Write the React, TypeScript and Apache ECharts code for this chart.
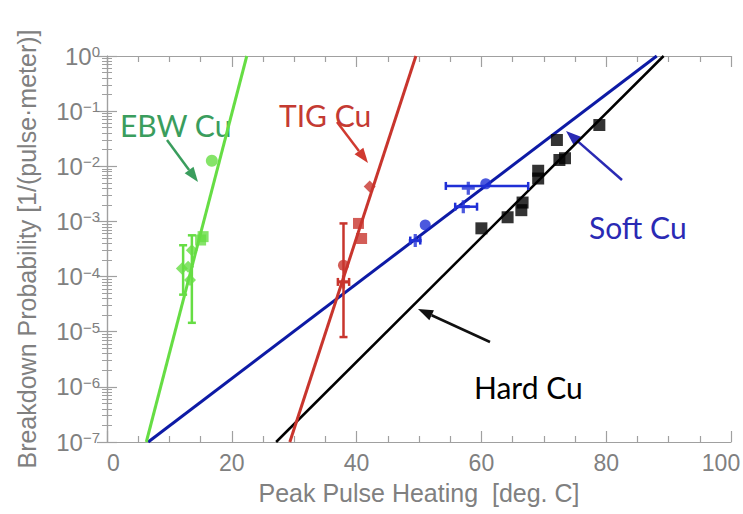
import React, { useEffect, useRef } from "react";
import * as echarts from "echarts";

// Fit lines (x in deg C, probability)
const fitEBW = [[6.3, 1e-7], [22.4, 1]];
const fitTIG = [[29.3, 1e-7], [49.5, 1]];
const fitSoft = [[6.6, 1e-7], [88.1, 1]];
const fitHard = [[27.1, 1e-7], [89.2, 1]];

// EBW Cu measurements
const ebwCircle = [[16.8, 0.0126]];
const ebwSquare = [[15.4, 5.3e-4], [15.0, 4.6e-4]];
const ebwDiamond = [[12.0, 1.4e-4], [13.0, 1.5e-4], [13.3, 8.7e-5], [13.6, 3.0e-4]];
const ebwErrY = [[13.6, 1.45e-5, 5.6e-4], [12.2, 4.7e-5, 3.7e-4]];

// TIG Cu measurements
const tigDiamond = [[42.1, 4.3e-3]];
const tigSquare = [[40.3, 9.2e-4], [40.8, 4.9e-4]];
const tigCircle = [[37.9, 1.6e-4]];
const tigCross = [[37.9, 8.0e-5]];
const tigErrY = [[37.9, 8e-6, 9.2e-4]];
const tigErrX = [[37.0, 38.8, 8.0e-5]];

// Soft Cu measurements
const softPlus = [[49.4, 4.5e-4], [57.1, 1.85e-3], [57.9, 4.0e-3]];
const softCircle = [[51.0, 8.6e-4], [60.7, 4.8e-3]];
const softErrX = [[48.6, 50.2, 4.5e-4], [55.8, 59.3, 1.85e-3], [54.3, 67.5, 4.4e-3]];

// Hard Cu measurements
const hardSquare = [
  [60.0, 7.5e-4], [64.2, 1.19e-3], [66.4, 1.6e-3], [66.6, 2.2e-3], [69.1, 6e-3],
  [69.1, 8.3e-3], [72.1, 0.03], [72.5, 0.013], [73.4, 0.014], [78.9, 0.056],
];

const X_MIN = 0;
const X_MAX = 100;
const X_INTERVAL = 20;
const Y_MIN = 1e-7;
const Y_MAX = 1;

const GREEN = "#66dd44";
const RED = "#c8352d";
const BLUE = "#0d1aa5";
const BLUE_PT = "#1f2fd6";
const BLACK = "#000000";
const AXIS_GRAY = "#a0a0a0";
const LABEL_GRAY = "#808080";

const PLUS = "path://M3,0H5V3H8V5H5V8H3V5H0V3H3Z";

function fitLine(data: number[][], color: string, width: number) {
  return {
    type: "line",
    data,
    symbol: "none",
    lineStyle: { color, width },
    clip: true,
    silent: true,
    z: 2,
  };
}

function scatter(data: number[][], color: string, symbol: string, size: number) {
  return {
    type: "scatter",
    data,
    symbol,
    symbolSize: size,
    itemStyle: { color },
    clip: true,
    z: 4,
  };
}

function errY(data: number[][], color: string) {
  return {
    type: "custom",
    data,
    encode: { x: 0, y: [1, 2] },
    z: 3,
    renderItem: (params: any, api: any) => {
      const x = api.value(0);
      const p1 = api.coord([x, api.value(1)]);
      const p2 = api.coord([x, api.value(2)]);
      const c = 4;
      const st = { stroke: color, lineWidth: 2.5 };
      return {
        type: "group",
        children: [
          { type: "line", shape: { x1: p1[0], y1: p1[1], x2: p2[0], y2: p2[1] }, style: st },
          { type: "line", shape: { x1: p1[0] - c, y1: p1[1], x2: p1[0] + c, y2: p1[1] }, style: st },
          { type: "line", shape: { x1: p2[0] - c, y1: p2[1], x2: p2[0] + c, y2: p2[1] }, style: st },
        ],
      };
    },
  };
}

function errX(data: number[][], color: string) {
  return {
    type: "custom",
    data,
    encode: { x: [0, 1], y: 2 },
    z: 3,
    renderItem: (params: any, api: any) => {
      const y = api.value(2);
      const p1 = api.coord([api.value(0), y]);
      const p2 = api.coord([api.value(1), y]);
      const c = 4;
      const st = { stroke: color, lineWidth: 2.5 };
      return {
        type: "group",
        children: [
          { type: "line", shape: { x1: p1[0], y1: p1[1], x2: p2[0], y2: p2[1] }, style: st },
          { type: "line", shape: { x1: p1[0], y1: p1[1] - c, x2: p1[0], y2: p1[1] + c }, style: st },
          { type: "line", shape: { x1: p2[0], y1: p2[1] - c, x2: p2[0], y2: p2[1] + c }, style: st },
        ],
      };
    },
  };
}

function arrow(x1: number, y1: number, x2: number, y2: number, color: string) {
  const ang = Math.atan2(y2 - y1, x2 - x1);
  const len = 15;
  const half = 5.5;
  const bx = x2 - len * Math.cos(ang);
  const by = y2 - len * Math.sin(ang);
  const nx = -Math.sin(ang);
  const ny = Math.cos(ang);
  return {
    type: "group",
    silent: true,
    children: [
      { type: "line", shape: { x1, y1, x2: bx, y2: by }, style: { stroke: color, lineWidth: 2.5 } },
      {
        type: "polygon",
        shape: { points: [[x2, y2], [bx + nx * half, by + ny * half], [bx - nx * half, by - ny * half]] },
        style: { fill: color },
      },
    ],
  };
}

function annot(text: string, left: number, top: number, color: string) {
  return {
    type: "text",
    left,
    top,
    silent: true,
    style: { text, fill: color, font: "30px Lato", textVerticalAlign: "middle" },
  };
}

function yLabel(v: number) {
  const e = Math.round(Math.log10(v));
  const s = e === 0 ? "0" : "\u2212" + String(-e);
  return "{m|10}{s|" + s + "}";
}

function xLabel(v: number) {
  return v === X_MAX ? "{r|" + v + "}" : String(v);
}

export default function App() {
  const ref = useRef<HTMLDivElement>(null);
  useEffect(() => {
    if (!ref.current) return;
    const chart = echarts.init(ref.current, null, { renderer: "svg" });
    const xAxisBase = {
      type: "value",
      min: X_MIN,
      max: X_MAX,
      interval: X_INTERVAL,
      axisLine: { show: true, lineStyle: { color: AXIS_GRAY, width: 1.2 } },
      axisTick: { show: true, inside: true, length: 11, lineStyle: { color: AXIS_GRAY, width: 1.2 } },
      minorTick: { show: true, splitNumber: 4, length: 6, lineStyle: { color: AXIS_GRAY, width: 1.2 } },
      splitLine: { show: false },
      minorSplitLine: { show: false },
    };
    const yAxisBase = {
      type: "log",
      logBase: 10,
      min: Y_MIN,
      max: Y_MAX,
      axisLine: { show: true, lineStyle: { color: AXIS_GRAY, width: 1.2 } },
      axisTick: { show: true, inside: true, length: 10, lineStyle: { color: AXIS_GRAY, width: 1.2 } },
      minorTick: { show: true, splitNumber: 9, length: 5, lineStyle: { color: AXIS_GRAY, width: 1 } },
      splitLine: { show: false },
      minorSplitLine: { show: false },
    };
    chart.setOption({
      animation: false,
      backgroundColor: "#ffffff",
      grid: { left: 107, right: 12, top: 56, bottom: 72, containLabel: false, outerBoundsMode: "none" },
      xAxis: [
        {
          ...xAxisBase,
          position: "bottom",
          name: "Peak Pulse Heating  [deg. C]",
          nameLocation: "middle",
          nameGap: 38,
          nameTextStyle: { color: LABEL_GRAY, fontSize: 25, fontFamily: "Liberation Sans" },
          axisLabel: {
            show: true,
            margin: 9,
            color: LABEL_GRAY,
            fontSize: 23,
            fontFamily: "Liberation Sans",
            alignMinLabel: "left",
            formatter: xLabel,
            rich: {
              r: { color: LABEL_GRAY, fontSize: 23, fontFamily: "Liberation Sans", padding: [0, 20, 0, 0] },
            },
          },
        },
        { ...xAxisBase, position: "top", axisLabel: { show: false } },
      ],
      yAxis: [
        {
          ...yAxisBase,
          position: "left",
          name: "Breakdown Probability [1/(pulse\u00b7meter)]",
          nameLocation: "middle",
          nameGap: 68,
          nameTextStyle: { color: LABEL_GRAY, fontSize: 25, fontFamily: "Liberation Sans" },
          axisLabel: {
            show: true,
            margin: 7,
            formatter: yLabel,
            rich: {
              m: { fontSize: 24, color: LABEL_GRAY, fontFamily: "Liberation Sans", lineHeight: 24, padding: [7, 0, 0, 0], verticalAlign: "bottom" },
              s: { fontSize: 15, color: LABEL_GRAY, fontFamily: "Liberation Sans", lineHeight: 15, verticalAlign: "top" },
            },
          },
        },
        { ...yAxisBase, position: "right", axisLabel: { show: false } },
      ],
      series: [
        fitLine(fitSoft, BLUE, 3),
        fitLine(fitHard, BLACK, 2.5),
        fitLine(fitEBW, GREEN, 3),
        fitLine(fitTIG, RED, 3),
        errY(ebwErrY, GREEN),
        errY(tigErrY, RED),
        errX(tigErrX, RED),
        errX(softErrX, BLUE_PT),
        scatter(ebwCircle, GREEN, "circle", 12),
        scatter(ebwSquare, GREEN, "rect", 11),
        scatter(ebwDiamond, GREEN, "diamond", 12),
        scatter(tigDiamond, RED, "diamond", 12),
        scatter(tigSquare, RED, "rect", 11),
        scatter(tigCircle, RED, "circle", 11),
        scatter(tigCross, RED, PLUS, 13),
        scatter(softPlus, BLUE_PT, PLUS, 13),
        scatter(softCircle, BLUE_PT, "circle", 11),
        scatter(hardSquare, BLACK, "rect", 12),
      ],
      graphic: [
        annot("EBW Cu", 120, 110, "#3a9d5d"),
        annot("TIG Cu", 279, 100, "#c43a32"),
        annot("Soft Cu", 589, 212, "#2a2ab4"),
        annot("Hard Cu", 474, 372, "#000000"),
        arrow(167, 140, 198, 182, "#3a9d5d"),
        arrow(337, 122, 368, 163, "#d03a30"),
        arrow(622, 180, 566, 131, "#2a2ab4"),
        arrow(490, 342, 418, 309, "#111111"),
      ],
    });
    return () => chart.dispose();
  }, []);
  return (
    <div
      ref={ref}
      style={{ position: "fixed", left: 0, top: 0, width: 743, height: 514, background: "#fff" }}
    />
  );
}
